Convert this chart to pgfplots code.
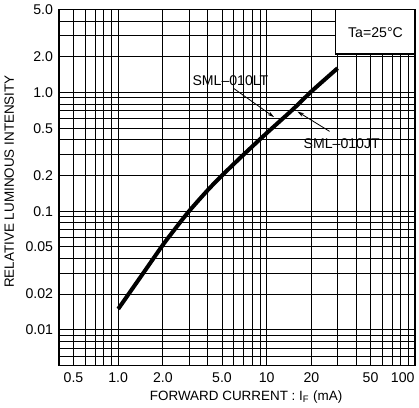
\documentclass[border=0pt]{standalone}
\usepackage{fontspec}
\setmainfont{Liberation Sans}
\usepackage{pgfplots}
\pgfplotsset{compat=1.18}
\usetikzlibrary{arrows.meta}
\begin{document}
\begin{tikzpicture}
\begin{axis}[
  width=265pt, height=265pt, scale only axis,
  xmode=log, ymode=log,
  xmin=0.4, xmax=100, ymin=0.005, ymax=5,
  xtick={0.5,1,2,5,10,20,50},
  xticklabels={0.5,1.0,2.0,5.0,10,20,50},
  extra x ticks={100},
  extra x tick labels={100},
  extra x tick style={xticklabel style={anchor=north east, xshift=3pt}},
  ytick={0.01,0.02,0.05,0.1,0.2,0.5,1,2,5},
  yticklabels={0.01,0.02,0.05,0.1,0.2,0.5,1.0,2.0,5.0},
  minor xtick={0.4,0.5,0.6,0.7,0.8,0.9,1,2,3,4,5,6,7,8,9,10,20,30,40,50,60,70,80,90,100},
  minor ytick={0.005,0.006,0.007,0.008,0.009,0.01,0.02,0.03,0.04,0.05,0.06,0.07,0.08,0.09,0.1,0.2,0.3,0.4,0.5,0.6,0.7,0.8,0.9,1,2,3,4,5},
  grid=both,
  major grid style={black, line width=0.7pt},
  minor grid style={black, line width=0.6pt},
  axis line style={line width=1.3pt},
  major tick length=0pt, minor tick length=0pt,
  tick style={draw=none},
  ticklabel style={font=\fontsize{10.5}{12}\selectfont},
  xticklabel style={yshift=-1.5pt},
  yticklabel style={xshift=-1pt},
  /pgf/number format/assume math mode=true,
  xlabel={FORWARD CURRENT : I\textsubscript{F} (mA)},
  ylabel={RELATIVE LUMINOUS INTENSITY},
  label style={font=\fontsize{10}{12}\selectfont},
  xlabel style={at={(axis description cs:0.525,-0.088)}, anchor=center},
  ylabel style={at={(axis description cs:-0.14,0.517)}, anchor=center},
  clip=false,
]
\addplot[black, line width=3pt, line join=round, smooth, tension=0.4] coordinates {
  (1.0,0.015) (1.5,0.031) (2.0,0.052) (2.5,0.075) (3.0,0.100) (4.0,0.150)
  (5.0,0.200) (7.0,0.300) (10,0.455) (15,0.72) (20,1.02) (30,1.6)
};
\filldraw[fill=white, draw=black, line width=1.3pt] (axis cs:29,2.1) rectangle (axis cs:100,5);
\node[font=\fontsize{10.5}{12}\selectfont] at (axis cs:54,3.2) {Ta=25°C};
\node[font=\fontsize{10.5}{12}\selectfont] at (axis cs:5.7,1.25) {SML\textendash 010LT};
\node[font=\fontsize{10.5}{12}\selectfont] at (axis cs:32,0.37) {SML\textendash 010JT};
\draw[line width=0.6pt, -{Stealth[length=5pt,width=3pt]}] (axis cs:6.0,1.08) -- (axis cs:11.2,0.62);
\draw[line width=0.6pt, -{Stealth[length=5pt,width=3pt]}] (axis cs:26.5,0.47) -- (axis cs:16.1,0.69);
\end{axis}
\end{tikzpicture}
\end{document}
